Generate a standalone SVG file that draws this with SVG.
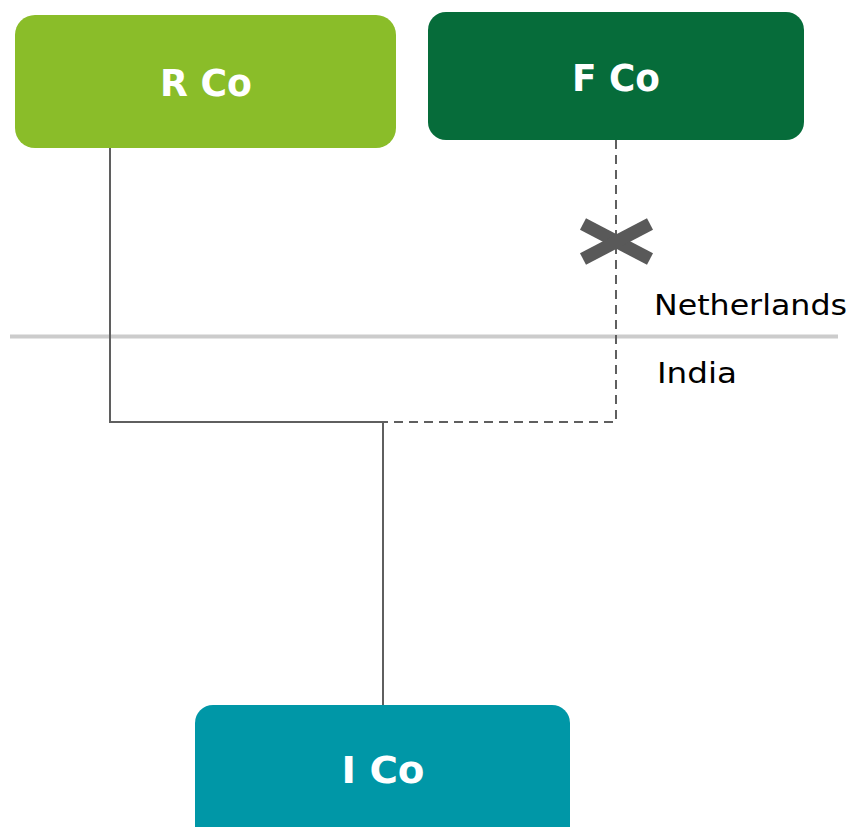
<svg xmlns="http://www.w3.org/2000/svg" width="852" height="827" viewBox="0 0 852 827">
<style>
.lbl{font-family:"DejaVu Sans","Liberation Sans",sans-serif;font-weight:bold;font-size:37px;fill:#fff;text-anchor:middle}
.reg{font-family:"DejaVu Sans","Liberation Sans",sans-serif;font-size:29px;fill:#000}
.ln{stroke:#5f5f5f;stroke-width:2;fill:none}
.dash{stroke:#5f5f5f;stroke-width:2;fill:none;stroke-dasharray:9,6}
</style>
<rect width="852" height="827" fill="#fff"/>
<line x1="10" y1="336.5" x2="838" y2="336.5" stroke="#cccccc" stroke-width="4"/>
<g id="connectors">
<polyline class="ln" points="110,148 110,422 383,422 383,705"/>
<polyline class="dash" points="616,140 616,422 383,422"/>
<g id="cross" stroke="#595959" stroke-width="13">
<line x1="583" y1="224" x2="650" y2="259"/>
<line x1="583" y1="259" x2="650" y2="224"/>
</g>
</g>
<g id="rco">
<rect x="15" y="15" width="381" height="133" rx="20" fill="#8abd29"/>
<text class="lbl" x="206" y="96" textLength="92" lengthAdjust="spacingAndGlyphs">R Co</text>
</g>
<g id="fco">
<rect x="428" y="12" width="376" height="128" rx="18" fill="#066c3a"/>
<text class="lbl" x="616" y="91" textLength="88" lengthAdjust="spacingAndGlyphs">F Co</text>
</g>
<g id="ico">
<rect x="195" y="705" width="375" height="140" rx="18" fill="#0097a7"/>
<text class="lbl" x="383" y="783" textLength="83" lengthAdjust="spacingAndGlyphs">I Co</text>
</g>
<text class="reg" x="654" y="315" textLength="193" lengthAdjust="spacingAndGlyphs">Netherlands</text>
<text class="reg" x="657" y="383" textLength="80" lengthAdjust="spacingAndGlyphs">India</text>
</svg>
